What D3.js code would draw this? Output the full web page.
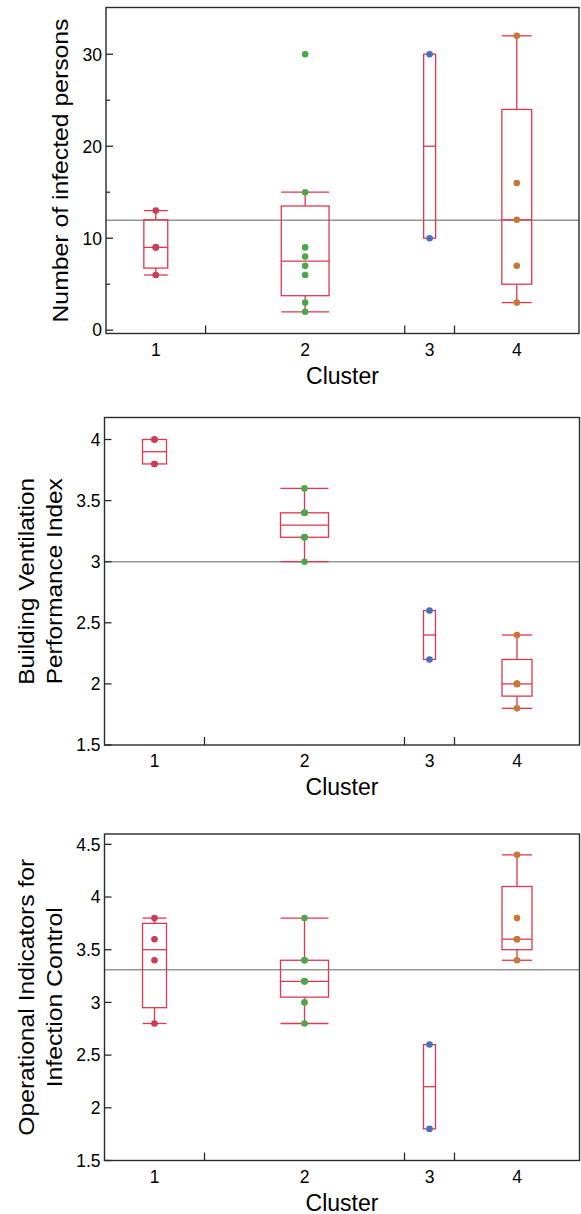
<!DOCTYPE html>
<html><head><meta charset="utf-8">
<script src="https://cdn.jsdelivr.net/npm/d3@7"></script>
<style>
html,body{margin:0;padding:0;background:#fff;}
svg{display:block;font-family:"Liberation Sans",Arial,Helvetica,sans-serif;}
</style></head>
<body>
<svg id="chart" width="581" height="1214"></svg>
<script>
// ---- data ----
const clusters = ["1", "2", "3", "4"];
const clusterColors = ["#cc3d55", "#4aa84a", "#4a6fc0", "#c6773a"];

const infectedPersons = [
  [6, 9, 9, 13],
  [2, 3, 6, 7, 8, 9, 15, 30],
  [10, 30],
  [3, 7, 12, 16, 32]
];
const ventilationIndex = [
  [3.8, 3.8, 4.0, 4.0],
  [3.0, 3.2, 3.2, 3.2, 3.4, 3.4, 3.4, 3.6],
  [2.2, 2.6],
  [1.8, 2.0, 2.0, 2.0, 2.4]
];
const operationalIndicators = [
  [2.8, 3.4, 3.6, 3.8],
  [2.8, 3.0, 3.2, 3.2, 3.2, 3.4, 3.4, 3.8],
  [1.8, 2.6],
  [3.4, 3.6, 3.6, 3.8, 4.4]
];
const referenceLines = [11.95, 3.0, 3.31];

const yTicks1 = [0, 10, 20, 30];
const yMinor1 = [5, 15, 25];
const yTicks2 = [1.5, 2, 2.5, 3, 3.5, 4];
const yTicks3 = [1.5, 2, 2.5, 3, 3.5, 4, 4.5];

const yTitles = [
  ["Number of infected persons"],
  ["Building Ventilation", "Performance Index"],
  ["Operational Indicators for", "Infection Control"]
];
const xTitle = "Cluster";

// ---- layout ----
const panels = [
  {data: infectedPersons, ref: referenceLines[0], ticks: yTicks1, minor: yMinor1, dom: [-0.36, 35.08],
   left: 106, right: 579, top: 7.5, bottom: 333.5, title: yTitles[0], tx: [68], tlen: [304]},
  {data: ventilationIndex, ref: referenceLines[1], ticks: yTicks2, minor: [], dom: [1.5, 4.18],
   left: 104.5, right: 579.5, top: 417.5, bottom: 745, title: yTitles[1], tx: [33.5, 61.5], tlen: [207, 206]},
  {data: operationalIndicators, ref: referenceLines[2], ticks: yTicks3, minor: [], dom: [1.5, 4.598],
   left: 104.5, right: 579.5, top: 834, bottom: 1160.5, title: yTitles[2], tx: [33.5, 61.5], tlen: [277, 180]}
];

function jmpQuantile(sorted, p) {
  const n = sorted.length;
  let pos = (n + 1) * p;
  if (pos <= 1) return sorted[0];
  if (pos >= n) return sorted[n - 1];
  const lo = Math.floor(pos), f = pos - lo;
  return sorted[lo - 1] + f * (sorted[lo] - sorted[lo - 1]);
}
function stats(arr) {
  const s = arr.slice().sort(d3.ascending);
  const q1 = jmpQuantile(s, 0.25), med = jmpQuantile(s, 0.5), q3 = jmpQuantile(s, 0.75);
  const iqr = q3 - q1;
  const lo = d3.min(s.filter(v => v >= q1 - 1.5 * iqr));
  const hi = d3.max(s.filter(v => v <= q3 + 1.5 * iqr));
  return {q1, med, q3, lo, hi};
}

const svg = d3.select("#chart");
const boxColor = "#e3364f";

panels.forEach((p, pi) => {
  const g = svg.append("g");
  const sizes = p.data.map(d => d.length);
  const total = d3.sum(sizes);
  const cum = [0];
  sizes.forEach(n => cum.push(cum[cum.length - 1] + n));
  const x = d3.scaleLinear().domain([0, total]).range([p.left, p.right]);
  const y = d3.scaleLinear().domain(p.dom).range([p.bottom, p.top]);

  // reference line
  g.append("line")
    .attr("x1", p.left).attr("x2", p.right)
    .attr("y1", y(p.ref)).attr("y2", y(p.ref))
    .attr("stroke", "#959595").attr("stroke-width", 1.4);

  // boxes
  p.data.forEach((vals, i) => {
    const st = stats(vals);
    const cx = x(cum[i] + sizes[i] / 2);
    const bw = (x(cum[i + 1]) - x(cum[i])) * 0.24;
    const bg = g.append("g").attr("stroke", boxColor).attr("stroke-width", 1.3).attr("fill", "none");
    if (st.hi > st.q3) {
      bg.append("line").attr("x1", cx).attr("x2", cx).attr("y1", y(st.q3)).attr("y2", y(st.hi));
      bg.append("line").attr("x1", cx - bw / 2).attr("x2", cx + bw / 2).attr("y1", y(st.hi)).attr("y2", y(st.hi));
    }
    if (st.lo < st.q1) {
      bg.append("line").attr("x1", cx).attr("x2", cx).attr("y1", y(st.q1)).attr("y2", y(st.lo));
      bg.append("line").attr("x1", cx - bw / 2).attr("x2", cx + bw / 2).attr("y1", y(st.lo)).attr("y2", y(st.lo));
    }
    bg.append("rect").attr("x", cx - bw / 2).attr("width", bw)
      .attr("y", y(st.q3)).attr("height", Math.max(0, y(st.q1) - y(st.q3)));
    bg.append("line").attr("x1", cx - bw / 2).attr("x2", cx + bw / 2).attr("y1", y(st.med)).attr("y2", y(st.med));

    g.selectAll(null).data(vals).enter().append("circle")
      .attr("cx", cx).attr("cy", d => y(d)).attr("r", 3.3)
      .attr("fill", clusterColors[i]);
  });

  // frame
  g.append("rect").attr("x", p.left).attr("y", p.top)
    .attr("width", p.right - p.left).attr("height", p.bottom - p.top)
    .attr("fill", "none").attr("stroke", "#2a2a2a").attr("stroke-width", 1.4);

  // y ticks (inward)
  g.selectAll(null).data(p.ticks).enter().append("line")
    .attr("x1", p.left).attr("x2", p.left + 7)
    .attr("y1", d => y(d)).attr("y2", d => y(d))
    .attr("stroke", "#2a2a2a").attr("stroke-width", 1.3);
  g.selectAll(null).data(p.minor).enter().append("line")
    .attr("x1", p.left).attr("x2", p.left + 4)
    .attr("y1", d => y(d)).attr("y2", d => y(d))
    .attr("stroke", "#2a2a2a").attr("stroke-width", 1.3);
  g.selectAll(null).data(p.ticks).enter().append("text")
    .attr("x", p.left - 4).attr("y", d => y(d)).attr("dy", "0.36em")
    .attr("text-anchor", "end").attr("font-size", 17.5).attr("fill", "#000")
    .text(d => d);

  // x ticks at group boundaries (inward)
  g.selectAll(null).data(cum.slice(1, -1)).enter().append("line")
    .attr("x1", d => x(d)).attr("x2", d => x(d))
    .attr("y1", p.bottom).attr("y2", p.bottom - 8)
    .attr("stroke", "#2a2a2a").attr("stroke-width", 1.3);
  g.selectAll(null).data(clusters).enter().append("text")
    .attr("x", (d, i) => x(cum[i] + sizes[i] / 2)).attr("y", p.bottom + 22)
    .attr("text-anchor", "middle").attr("font-size", 17.5).attr("fill", "#000")
    .text(d => d);

  // x title
  g.append("text").attr("x", (p.left + p.right) / 2).attr("y", p.bottom + 50)
    .attr("text-anchor", "middle").attr("font-size", 23).attr("fill", "#000").text(xTitle);

  // y title
  const cy = (p.top + p.bottom) / 2;
  p.title.forEach((t, k) => {
    g.append("text")
      .attr("transform", `translate(${p.tx[k]},${cy}) rotate(-90)`)
      .attr("text-anchor", "middle").attr("font-size", 22).attr("fill", "#000")
      .attr("textLength", p.tlen[k]).attr("lengthAdjust", "spacingAndGlyphs")
      .text(t);
  });
});
</script>
</body></html>
